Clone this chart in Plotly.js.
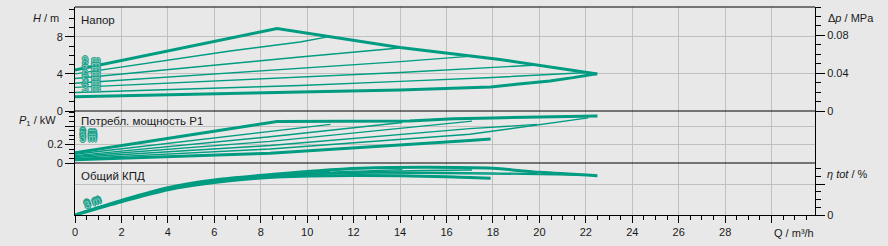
<!DOCTYPE html>
<html><head><meta charset="utf-8">
<script src="https://cdn.plot.ly/plotly-3.0.1.min.js"></script>
<style>html,body{margin:0;padding:0;background:#e8e8e8;}#chart{width:888px;height:246px;}</style>
</head><body><div id="chart"></div>
<script>
// ---- setpoint labels ----
const setpoints = ['9 m','8 m','7 m','6 m','5 m','4 m','3 m'];
const setHead = [9, 8, 7, 6, 5, 4, 3];

// ---- Head H / m versus Q / m3/h ----
const h9Q = [0, 8.7, 14, 18.3, 22.5];
const h9H = [4.42, 8.9, 6.85, 5.55, 4.0];
const h8Q = [0, 6.68, 9.69, 11.0];
const h8H = [4.0, 6.47, 7.45, 8.05];
const h7Q = [0, 6.68, 9.69, 14.1];
const h7H = [3.5, 5.14, 5.83, 6.83];
const h6Q = [0, 6.68, 9.69, 14, 17.1];
const h6H = [3.0, 4.1, 4.55, 5.33, 5.92];
const h5Q = [0, 6.68, 9.69, 14, 19.9];
const h5H = [2.55, 3.3, 3.63, 4.15, 4.96];
const h4Q = [0, 6.68, 9.69, 14, 18, 22.1];
const h4H = [2.0, 2.52, 2.75, 3.2, 3.62, 4.15];
const h3Q = [0, 6.68, 9.69, 14, 17.9, 19, 20.45, 21.45, 22.46];
const h3H = [1.55, 1.85, 2.05, 2.27, 2.6, 2.88, 3.24, 3.6, 4.03];

// ---- Power P1 / kW ----
const p9Q = [0, 8.7, 14.4, 16.3, 18, 22.5];
const p9P = [0.11, 0.45, 0.455, 0.48, 0.49, 0.51];
const p8Q = [0, 8.4, 11.0];
const p8P = [0.095, 0.345, 0.42];
const p7Q = [0, 8.4, 14.1];
const p7P = [0.08, 0.285, 0.44];
const p6Q = [0, 8.4, 17.1];
const p6P = [0.07, 0.235, 0.455];
const p5Q = [0, 8.4, 17, 19.9];
const p5P = [0.06, 0.19, 0.373, 0.42];
const p4Q = [0, 8.4, 17, 22.1];
const p4P = [0.048, 0.152, 0.312, 0.49];
const p3Q = [0, 8.4, 17, 17.9];
const p3P = [0.035, 0.105, 0.245, 0.262];

// ---- Efficiency eta tot / % ----
const e9Q = [0, 2, 4, 6, 8.7, 10.5, 12.3, 15, 18, 20, 22.5];
const e9E = [0, 9.5, 17.8, 22.8, 26.7, 28.9, 30.4, 31.1, 30.4, 27.8, 25.6];
const e8Q = [0, 2, 4, 6, 8.7, 11.0];
const e8E = [0, 9.3, 17.5, 22.5, 26.3, 28.4];
const e7Q = [0, 2, 4, 6, 8.7, 12, 14.1];
const e7E = [0, 9.1, 17.3, 22.2, 26.0, 28.5, 29.6];
const e6Q = [0, 2, 4, 6, 8.7, 12, 15, 17.1];
const e6E = [0, 9.0, 17.1, 22.0, 25.7, 28.0, 29.0, 29.3];
const e5Q = [0, 2, 4, 6, 8.7, 12, 16, 19.9];
const e5E = [0, 8.9, 17.0, 21.8, 25.5, 27.6, 27.8, 27.0];
const e4Q = [0, 2, 4, 6, 8.7, 12, 16, 20, 22.1];
const e4E = [0, 8.8, 16.8, 21.6, 25.2, 27.2, 27.0, 26.4, 25.8];
const e3Q = [0, 2, 4, 6, 8.7, 12, 16, 17.9];
const e3E = [0, 8.6, 16.5, 21.2, 24.7, 25.8, 25.0, 23.9];

// ---- tick labels ----
const xTickVals = [0,2,4,6,8,10,12,14,16,18,20,22,24,26,28,30];
const xTickText = ['0','2','4','6','8','10','12','14','16','18','20','22','24','26','28',' '];
const hTickVals = [0, 4, 8];
const hTickText = ['0', '4', '8'];
const dpTickVals = [0, 0.04, 0.08];
const dpTickText = ['0', '0.04', '0.08'];
const pTickVals = [0, 0.2, 0.4];
const pTickText = ['0', '0.2', ' '];
const eTickVals = [0, 20];
const eTickText = ['0', ' '];

// ---- build ----
const teal = '#009c82';
const traces = [];
function line(x, y, ax, thick, smooth) {
  traces.push({type:'scatter', mode:'lines', x:x, y:y, xaxis:'x', yaxis:ax,
    line:{color:teal, width: thick ? 3 : 1.4, shape: smooth ? 'spline' : 'linear', smoothing: smooth ? 0.8 : undefined},
    hoverinfo:'skip', showlegend:false});
}
const headSets = [[h9Q,h9H],[h8Q,h8H],[h7Q,h7H],[h6Q,h6H],[h5Q,h5H],[h4Q,h4H],[h3Q,h3H]];
const powSets = [[p9Q,p9P],[p8Q,p8P],[p7Q,p7P],[p6Q,p6P],[p5Q,p5P],[p4Q,p4P],[p3Q,p3P]];
const effSets = [[e9Q,e9E],[e8Q,e8E],[e7Q,e7E],[e6Q,e6E],[e5Q,e5E],[e4Q,e4E],[e3Q,e3E]];
headSets.forEach((s,i)=>line(s[0], s[1], 'y', i===0 || i===6, false));
powSets.forEach((s,i)=>line(s[0], s[1], 'y2', i===0 || i===6, false));
effSets.forEach((s,i)=>line(s[0], s[1], 'y3', i===0 || i===6, true));
// dummy traces to create right-side overlay axes
traces.push({type:'scatter', x:[], y:[], xaxis:'x', yaxis:'y4', hoverinfo:'skip', showlegend:false});
traces.push({type:'scatter', x:[], y:[], xaxis:'x', yaxis:'y5', hoverinfo:'skip', showlegend:false});

function range(a, b, step, skip) {
  const out = [];
  for (let v = a; v <= b + 1e-9; v += step) {
    const r = Math.round(v * 1000) / 1000;
    if (!skip || !skip.some(s => Math.abs(s - r) < 1e-9)) out.push(r);
  }
  return out;
}

const L = 75, R = 815, T = 7, B = 215;
const px = X => (X - L) / (R - L);
const py = Y => (B - Y) / (B - T);
const txt = '#1a1a1a';
const font = 'Liberation Sans, Arial, sans-serif';
const grid = '#c0c0c0';
const hMax = 11.22;

const baseY = {showline:true, linecolor:'#000', linewidth:1, zeroline:false, ticks:'outside',
  tickcolor:'#000', ticklen:9, tickwidth:1, gridcolor:grid, gridwidth:1, tickfont:{size:11, color:txt}, fixedrange:true};

const annotations = [];
function ann(text, X, Y, anchor, extra) {
  annotations.push(Object.assign({text:text, xref:'paper', yref:'paper', x:px(X), y:py(Y),
    xanchor:anchor, yanchor:'middle', showarrow:false, font:{family:font, size:11, color:txt}}, extra || {}));
}
ann('<i>H</i> / m', 61, 17.5, 'right');
ann('<i>P</i><sub>1</sub> / kW', 58, 121.5, 'right');
ann('Δ<i>p</i> / MPa', 826, 18, 'left');
ann('<i>η tot</i> / %', 825, 174, 'left');
ann('Q / m³/h', 772, 232.5, 'left');
ann('Напор', 79, 19.5, 'left', {font:{family:font, size:11.5, color:txt}});
ann('Потребл. мощность P1', 79, 121.5, 'left', {font:{family:font, size:11.5, color:txt}});
ann('Общий КПД', 79, 175.5, 'left', {font:{family:font, size:11.5, color:txt}});

const labFont = {family:font, size:11, color:'#86cfc2', shadow:'1px 0 0 #1a9c86, -1px 0 0 #1a9c86, 0 1px 0 #1a9c86, 0 -1px 0 #1a9c86'};
setpoints.forEach((s,i)=>{
  annotations.push({text:s, xref:'x', yref:'y', x:0.2, y:setHead[i]/2 + 1.0, xanchor:'left', yanchor:'middle', showarrow:false, font:labFont});
  annotations.push({text:s, xref:'x', yref:'y2', x:0.15, y:powSets[i][1][0] + 0.235, xanchor:'left', yanchor:'middle', showarrow:false, font:Object.assign({}, labFont, {size:10})});
  annotations.push({text:s, xref:'x', yref:'y3', x:0.75, y:9.2 - i*0.15, xanchor:'center', yanchor:'middle', showarrow:false, textangle:-22, font:Object.assign({}, labFont, {size:10})});
});

const layout = {
  width:888, height:246, margin:{l:L, r:888-R, t:T, b:246-B, pad:0},
  paper_bgcolor:'#e8e8e8', plot_bgcolor:'#e8e8e8',
  font:{family:font, size:11, color:txt}, showlegend:false,
  xaxis:{range:[0, 31.87], anchor:'y3', tickmode:'array', tickvals:xTickVals, ticktext:xTickText,
    ticks:'outside', ticklen:7, tickcolor:'#000', showline:true, linecolor:'#000', zeroline:false,
    showgrid:true, gridcolor:grid, gridwidth:1, tickfont:{size:11, color:txt}, fixedrange:true,
    minor:{tickmode:'array', tickvals:range(0, 31.5, 0.5, xTickVals), ticks:'outside', ticklen:4, tickcolor:'#000', showgrid:false}},
  yaxis:Object.assign({}, baseY, {domain:[0.5, 1], range:[0, hMax], anchor:'x', mirror:true,
    tickmode:'array', tickvals:hTickVals, ticktext:hTickText, showgrid:true,
    minor:{tickmode:'array', tickvals:range(0, 11, 1, hTickVals), ticks:'outside', ticklen:5, tickcolor:'#000', showgrid:false}}),
  yaxis4:Object.assign({}, baseY, {overlaying:'y', side:'right', anchor:'x', range:[0, hMax*0.00981],
    tickmode:'array', tickvals:dpTickVals, ticktext:dpTickText, showgrid:false,
    minor:{tickmode:'array', tickvals:range(0, 0.11, 0.01, dpTickVals), ticks:'outside', ticklen:5, tickcolor:'#000', showgrid:false}}),
  yaxis2:Object.assign({}, baseY, {domain:[0.25, 0.5], range:[0, 0.565], anchor:'x', mirror:true,
    tickmode:'array', tickvals:pTickVals, ticktext:pTickText, showgrid:true,
    minor:{tickmode:'array', tickvals:range(0, 0.55, 0.05, pTickVals), ticks:'outside', ticklen:5, tickcolor:'#000', showgrid:false}}),
  yaxis3:Object.assign({}, baseY, {domain:[0, 0.25], range:[0, 33.9], anchor:'x', mirror:true,
    tickmode:'array', tickvals:eTickVals, ticktext:[' ',' '], ticks:'', showgrid:true}),
  yaxis5:Object.assign({}, baseY, {overlaying:'y3', side:'right', anchor:'x', range:[0, 33.9],
    tickmode:'array', tickvals:eTickVals, ticktext:eTickText, showgrid:false,
    minor:{tickmode:'array', tickvals:range(5, 30, 5, eTickVals), ticks:'outside', ticklen:5, tickcolor:'#000', showgrid:false}}),
  shapes:[0.5, 0.25, 1].map(v=>({type:'line', xref:'paper', yref:'paper', x0:0, x1:1, y0:v, y1:v, line:{color:'#000', width:1}})),
  annotations:annotations
};
Plotly.newPlot('chart', traces, layout, {displayModeBar:false, staticPlot:true});
</script></body></html>
